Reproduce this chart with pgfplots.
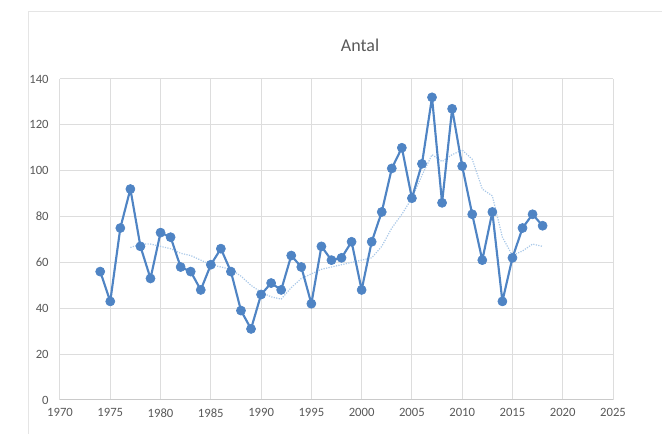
\documentclass[border=0pt]{standalone}
\usepackage{fontspec}
\setmainfont{Carlito}
\usepackage{pgfplots}
\pgfplotsset{compat=1.18}
\definecolor{mainblue}{HTML}{4F84C4}
\definecolor{lightblue}{HTML}{A9C8E8}
\definecolor{gridgray}{HTML}{DDDDDD}
\definecolor{labgray}{HTML}{595959}
\begin{document}
\begin{tikzpicture}[x=0.75pt,y=0.75pt]
\path[use as bounding box] (0,0) rectangle (662,434);
\draw[color=gray!20, line width=0.75pt] (28,0) -- (28,422) -- (662,422);
\node[font=\fontsize{13.5}{15}\selectfont, text=labgray] at (360,389) {Antal};
\begin{axis}[
  at={(45pt,25.5pt)}, anchor=south west,
  scale only axis, width=414.75pt, height=240.75pt,
  xmin=1970, xmax=2025, ymin=0, ymax=140,
  xtick={1970,1975,...,2025}, ytick={0,20,...,140},
  grid=major, major grid style={gridgray, line width=0.75pt},
  axis line style={draw=none},
  major tick length=0pt,
  /pgf/number format/1000 sep={},
  /pgf/number format/assume math mode=true,
  tick label style={font=\fontsize{9.5}{11}\selectfont, text=labgray},
  yticklabel style={xshift=-5pt},
  xticklabel style={yshift=-3pt},
  clip=false,
]
\draw[gridgray!80!gray, line width=0.75pt] (axis cs:1970,0) -- (axis cs:2025,0);
\addplot[lightblue, line width=0.9pt, densely dotted, line join=round] coordinates {
(1977,66.5) (1978,68) (1979,68) (1980,67) (1981,66) (1982,64) (1983,63) (1984,61)
(1985,59) (1986,58) (1987,57) (1988,54) (1989,50) (1990,47) (1991,45) (1992,44)
(1993,49) (1994,53) (1995,55) (1996,57) (1997,58) (1998,59) (1999,60) (2000,61)
(2001,62) (2002,67) (2003,75) (2004,81) (2005,88) (2006,98) (2007,107) (2008,104)
(2009,107) (2010,109) (2011,105) (2012,92) (2013,89) (2014,71) (2015,63) (2016,65)
(2017,68) (2018,67)
};
\addplot[mainblue, line width=1.6pt, line join=round, mark=*, mark size=3.4pt, mark options={fill=mainblue, draw=mainblue, line width=0.5pt}] coordinates {
(1974,56) (1975,43) (1976,75) (1977,92) (1978,67) (1979,53) (1980,73) (1981,71)
(1982,58) (1983,56) (1984,48) (1985,59) (1986,66) (1987,56) (1988,39) (1989,31)
(1990,46) (1991,51) (1992,48) (1993,63) (1994,58) (1995,42) (1996,67) (1997,61)
(1998,62) (1999,69) (2000,48) (2001,69) (2002,82) (2003,101) (2004,110) (2005,88)
(2006,103) (2007,132) (2008,86) (2009,127) (2010,102) (2011,81) (2012,61) (2013,82)
(2014,43) (2015,62) (2016,75) (2017,81) (2018,76)
};
\end{axis}
\end{tikzpicture}
\end{document}
